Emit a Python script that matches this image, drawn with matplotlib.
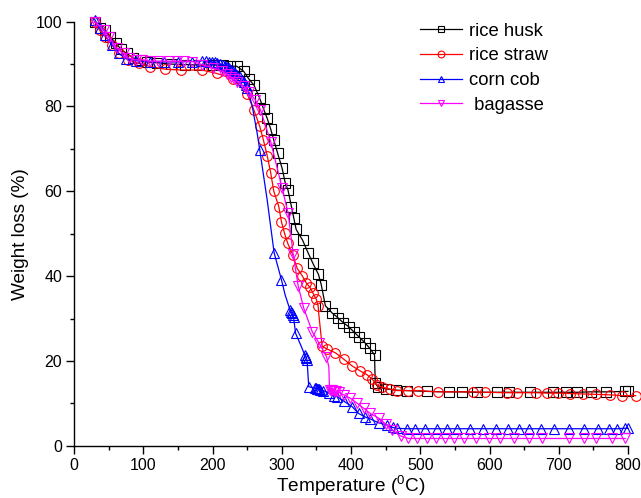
import matplotlib
matplotlib.use("Agg")
import matplotlib.pyplot as plt
from matplotlib.ticker import MultipleLocator

plt.rcParams['font.family'] = ['Liberation Sans', 'DejaVu Sans']
plt.rcParams['mathtext.default'] = 'regular'

# ---- data ----
husk_T = [30, 38, 45, 52, 60, 68, 76, 85, 95, 105, 120, 140, 160, 180, 200, 215, 225, 235,
          245, 252, 260, 268, 274, 279, 284, 288.5, 294, 300.6, 305, 309, 314, 317.5, 320.8,
          330, 338, 345, 353, 357, 363, 372.8, 381, 388.7, 396.5, 403.7, 412, 420, 427, 434,
          435, 439, 450, 465, 481, 510, 541, 560, 582, 611, 628, 658, 692, 710, 727, 746, 768,
          796, 800]
husk_W = [100, 98.5, 98, 96.5, 95, 93.5, 92.5, 91.5, 91, 90.5, 90.3, 90, 89.9, 89.8, 89.8,
          89.7, 89.5, 89.5, 88.3, 86.6, 85, 82, 79.3, 77.2, 74.7, 72.1, 69, 65.4, 62, 60.3,
          56.4, 53.6, 51, 48.5, 45.5, 43, 40.4, 38, 33, 31.3, 30.2, 29, 28.1, 26.9, 25.6,
          24.3, 23, 21.4, 14.7, 13.9, 13.4, 13.1, 13, 12.8, 12.7, 12.7, 12.6, 12.6, 12.6,
          12.6, 12.6, 12.6, 12.6, 12.7, 12.7, 12.8, 12.8]

straw_T = [30, 37, 45, 55, 65, 78, 93.6, 110, 132, 155, 185, 206, 230, 250, 259.7, 268.3,
           273.5, 279, 284, 288.5, 295.7, 299.6, 304, 308.7, 316, 322.3, 329.5, 335.3,
           340.5, 345.4, 350, 352.6, 353.5, 358.4, 365.6, 377.6, 389.6, 401.7, 413.7,
           423.4, 430.6, 437.8, 445, 457, 467, 483, 497, 525, 576, 593, 625, 640, 667, 683,
           699, 716, 735, 754, 774, 792, 811]
straw_W = [100, 98, 96.5, 94.5, 92.5, 91, 90.2, 89.4, 88.8, 88.6, 88.6, 87.8, 86.5, 83,
           79.2, 75.3, 72.1, 68.4, 64.4, 60, 56.4, 52.8, 50.1, 47.7, 45, 41.8, 40.1, 38.4,
           37.4, 35.9, 34.5, 32.9, 31, 23.4, 22.8, 21.9, 20.4, 18.8, 17.6, 16.7, 15.7, 14.3,
           13.8, 13.3, 13, 13, 13, 12.7, 12.7, 12.6, 12.5, 12.5, 12.5, 12.4, 12.4, 12.3,
           12.2, 12.1, 12, 11.8, 11.8]

cob_T = [30, 37, 45, 55, 65, 75, 90, 110, 130, 150, 170, 185, 190, 195, 199, 203, 207, 211,
         215, 218, 221, 224, 227, 230, 233, 236, 239, 242, 245, 248, 250, 257, 264.5, 268.3,
         274, 279, 289, 299.6, 305, 312, 313.5, 315, 316, 317, 320, 328, 333, 334.5, 335.7,
         336.5, 339, 348, 350, 351, 352, 353.5, 355, 360, 368, 375, 380, 389.6, 401.7, 411,
         420, 428, 440, 452, 460, 467, 481, 493, 507, 524, 539, 553, 572, 591, 609, 626,
         642, 657, 675, 693, 715, 737, 757, 773, 784, 795, 800]
cob_W = [100.5, 98.5, 96.8, 94.5, 92.5, 91.3, 90.8, 90.5, 90.5, 90.5, 90.6, 90.8, 90.7,
         90.6, 90.5, 90.4, 90.2, 90, 89.8, 89.6, 89.3, 89, 88.7, 88.3, 87.9, 87.4, 86.9,
         86.3, 85.7, 85, 84.3, 80.4, 73.7, 69.7, 63.4, 57.9, 45.5, 39.1, 35.5, 32, 31.6,
         31.2, 30.8, 30.3, 26.5, 23.5, 21.5, 21, 20.6, 20.2, 13.9, 13.6, 13.5, 13.4, 13.35,
         13.3, 13.2, 13, 12.4, 11.8, 11.6, 10.5, 9.2, 7.6, 6.8, 6.3, 5.4, 4.9, 4.3, 4.1,
         4.0, 4.0, 4.0, 4.0, 4.0, 4.0, 4.0, 4.0, 4.0, 4.0, 4.0, 4.0, 4.0, 4.0, 4.0, 4.0,
         4.0, 4.0, 4.0, 4.1, 4.1]

bag_T = [30, 43, 50, 62, 72, 79, 89, 98.5, 110, 122, 137, 149, 159, 171, 185, 200, 214,
         221, 226, 231, 236, 245, 252.5, 262, 269.3, 284, 300.6, 309.3, 316.5, 323.7, 331.8,
         344, 353.5, 364.6, 368, 369, 371, 373, 375, 377, 379, 382, 389.6, 399, 409, 418.5,
         428, 440, 450, 459.5, 471.5, 483, 496, 510, 523, 536, 549, 563, 580, 599, 615, 635,
         657, 676, 715, 736, 754, 777, 796]
bag_W = [100, 98, 96.5, 93.7, 92.5, 91.4, 91, 91, 90.7, 90.7, 90.7, 90.7, 90.7, 90.6, 89.9,
         89.1, 88.3, 87.6, 87, 86.6, 85.8, 84.8, 83.5, 81.5, 79.2, 71.7, 60.7, 54.8, 45.2,
         37.7, 32.4, 26.9, 24.3, 21, 18.6, 13.2, 13.2, 13.1, 13, 12.9, 12.8, 12.6, 12, 11.2,
         10, 8.8, 7.6, 6.5, 5.1, 3.7, 2.3, 1.7, 1.7, 1.7, 1.7, 1.7, 1.7, 1.7, 1.7, 1.7, 1.7,
         1.7, 1.7, 1.7, 1.7, 1.7, 1.7, 1.7, 1.7]

# temperatures where the curve has a line vertex but no visible symbol
cob_unmarked = [257, 264.5, 274, 279, 305, 328]
straw_unmarked = [353.5]
bag_unmarked = [368]

labels = ["rice husk", "rice straw", "corn cob", " bagasse"]
colors = ["black", "red", "blue", "magenta"]
markers = ["s", "o", "^", "v"]
sizes = [6.5, 7, 7, 7]
unmarked = [[], straw_unmarked, cob_unmarked, bag_unmarked]

fig = plt.figure(figsize=(6.41, 4.98), dpi=100)
ax = fig.add_axes([74/641, (498-445.7)/498, (628-74)/641, (445.7-21.7)/498])

series = [(husk_T, husk_W), (straw_T, straw_W), (cob_T, cob_W), (bag_T, bag_W)]
for (T, W), lab, c, m, s, um in zip(series, labels, colors, markers, sizes, unmarked):
    mask = [t not in um for t in T]
    ax.plot(T, W, color=c, marker=m, markersize=s, markerfacecolor='none',
            markeredgecolor=c, markeredgewidth=0.8, linewidth=0.9, label=lab,
            clip_on=False, markevery=mask)

ax.set_xlim(0, 800)
ax.set_ylim(0, 100)
ax.xaxis.set_major_locator(MultipleLocator(100))
ax.xaxis.set_minor_locator(MultipleLocator(50))
ax.yaxis.set_major_locator(MultipleLocator(20))
ax.yaxis.set_minor_locator(MultipleLocator(10))
for sp in ['top', 'right']:
    ax.spines[sp].set_visible(False)
for sp in ['left', 'bottom']:
    ax.spines[sp].set_linewidth(1.0)
ax.tick_params(which='major', direction='out', length=5.5, width=1.0, labelsize=11.5, pad=3)
ax.tick_params(which='minor', direction='out', length=3, width=1.0)

ax.set_xlabel(r"Temperature ($^{0}$C)", fontsize=13.7, labelpad=1)
ax.set_ylabel("Weight loss (%)", fontsize=13.7, labelpad=5)

leg = ax.legend(loc='upper left', bbox_to_anchor=(0.6245, 0.998), frameon=False,
                fontsize=13.3, handlelength=2.3, handletextpad=0.38, labelspacing=0.42,
                markerscale=0.7, borderaxespad=0, borderpad=0)

fig.savefig("out.png", dpi=100)
